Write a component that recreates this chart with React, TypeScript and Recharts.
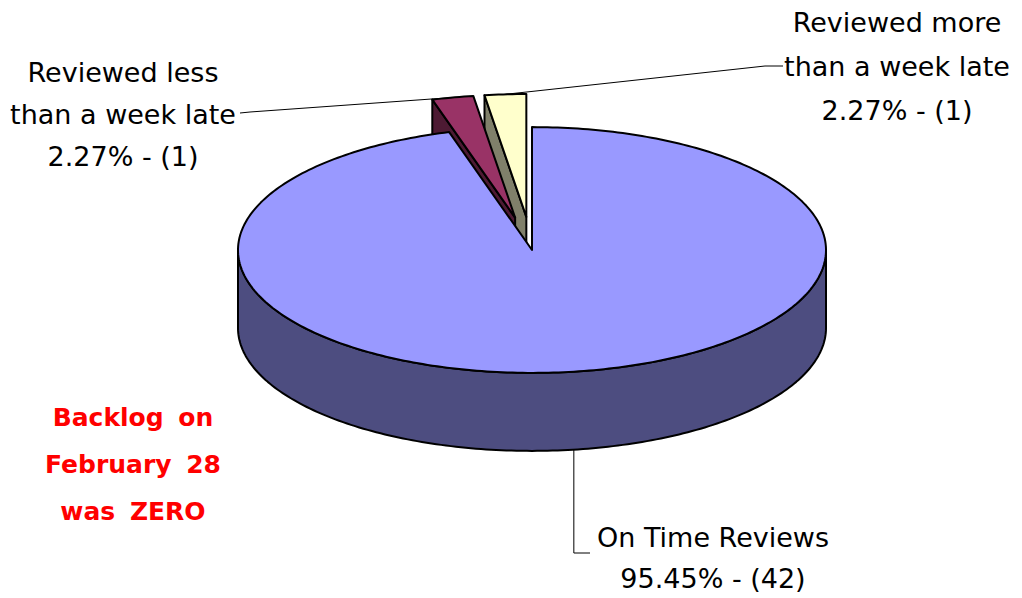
import React from "react";
import { PieChart, Pie, Cell } from "recharts";

// slices go counter-clockwise from 12 o'clock, so the exploded ones come first
const categories = [
  "Reviewed more than a week late",
  "Reviewed less than a week late",
  "On Time Reviews",
];
const labelLines = [
  ["Reviewed more", "than a week late"],
  ["Reviewed less", "than a week late"],
  ["On Time Reviews"],
];
const reviewCounts = [1, 1, 42];
const topColors = ["#FFFFCC", "#993366", "#9999FF"];
const sideColors = ["#80806A", "#4D1A33", "#4D4D80"];
const explodeRatio = [0.27, 0.27, 0];
const noteLines = ["Backlog on", "February 28", "was ZERO"];

const data = categories.map((name, i) => ({
  name,
  value: reviewCounts[i],
  top: topColors[i],
  side: sideColors[i],
  explode: explodeRatio[i],
  lines: labelLines[i],
}));

// where each label sits (layout only)
const labelLayout = [
  { x: 897, y: 22, gap: 44, bend: [[765, 66], [783, 66]] },
  { x: 123, y: 72, gap: 42, bend: [[250, 112], [240, 113]] },
  { x: 713, y: 537, gap: 41, bend: null },
];

const FONT = "'Comic Sans MS', 'DejaVu Sans', sans-serif";
const TILT = 0.418;
const DEPTH = 78;
const RAD = Math.PI / 180;

const arcPoints = (cx: number, cy: number, rx: number, ry: number, a1: number, a2: number, dy = 0) => {
  const steps = Math.max(2, Math.ceil(Math.abs(a2 - a1)));
  const pts: number[][] = [];
  for (let s = 0; s <= steps; s++) {
    const a = (a1 + ((a2 - a1) * s) / steps) * RAD;
    pts.push([cx + rx * Math.cos(a), cy - ry * Math.sin(a) + dy]);
  }
  return pts;
};

const toPath = (pts: number[][]) =>
  "M" + pts.map((p) => `${p[0].toFixed(2)},${p[1].toFixed(2)}`).join("L") + "Z";

const renderSlice = (props: any) => {
  const { cx, cy, outerRadius, startAngle, endAngle, index, payload, percent, value } = props;
  const rx = outerRadius;
  const ry = outerRadius * TILT;
  const a1 = Math.min(startAngle, endAngle);
  const a2 = Math.max(startAngle, endAngle);
  const mid = (a1 + a2) / 2;
  const e = payload.explode || 0;
  const x0 = cx + e * rx * Math.cos(mid * RAD);
  const y0 = cy - e * ry * Math.sin(mid * RAD);
  const stroke = { stroke: "#000", strokeWidth: 2, strokeLinejoin: "round" as const };

  const faces: React.ReactNode[] = [];
  const radial = (a: number, key: string) => {
    const p = arcPoints(x0, y0, rx, ry, a, a)[0];
    faces.push(
      <path
        key={key}
        d={toPath([[x0, y0], p, [p[0], p[1] + DEPTH], [x0, y0 + DEPTH]])}
        fill={payload.side}
        {...stroke}
      />
    );
  };
  if (Math.cos(a1 * RAD) > 1e-6) radial(a1, "r1");
  if (Math.cos(a2 * RAD) < -1e-6) radial(a2, "r2");

  // outer wall: only the front half (180..360) can be seen
  for (let k = -1; k <= 2; k++) {
    const lo = Math.max(a1, 180 + 360 * k);
    const hi = Math.min(a2, 360 + 360 * k);
    if (hi > lo) {
      const upper = arcPoints(x0, y0, rx, ry, lo, hi);
      const lower = arcPoints(x0, y0, rx, ry, hi, lo, DEPTH);
      faces.push(<path key={`w${k}`} d={toPath([...upper, ...lower])} fill={payload.side} {...stroke} />);
    }
  }

  const top = [[x0, y0], ...arcPoints(x0, y0, rx, ry, a1, a2)];
  faces.push(<path key="top" d={toPath(top)} fill={payload.top} {...stroke} />);

  // label with leader line
  const lay = labelLayout[index];
  const text = [...payload.lines, `${(percent * 100).toFixed(2)}% - (${value})`];
  let leader: number[][];
  if (lay.bend) {
    const p = arcPoints(x0, y0, rx, ry, mid, mid)[0];
    leader = [p, ...lay.bend];
  } else {
    const p = arcPoints(x0, y0, rx, ry, mid, mid, DEPTH)[0];
    leader = [p, [p[0], 553], [590, 553]];
  }

  return (
    <g key={`slice-${index}`}>
      {faces}
      <polyline
        points={leader.map((p) => p.join(",")).join(" ")}
        fill="none"
        stroke="#000"
        strokeWidth={1}
      />
      {text.map((t, i) => (
        <text
          key={i}
          x={lay.x}
          y={lay.y + i * lay.gap}
          dy="0.36em"
          textAnchor="middle"
          fontFamily={FONT}
          fontSize={27}
          fill="#000"
        >
          {t}
        </text>
      ))}
    </g>
  );
};

export default function App() {
  return (
    <div style={{ position: "absolute", left: 0, top: 0, width: 1022, height: 598, background: "#fff" }}>
      <PieChart width={1022} height={598} margin={{ top: 0, right: 0, bottom: 0, left: 0 }}>
        <Pie
          data={data}
          dataKey="value"
          nameKey="name"
          cx={532}
          cy={250}
          outerRadius={294}
          startAngle={90}
          endAngle={450}
          label={renderSlice}
          labelLine={false}
          stroke="none"
          isAnimationActive={false}
        >
          {data.map((d, i) => (
            <Cell key={i} fill="none" stroke="none" />
          ))}
        </Pie>
      </PieChart>
      <div
        style={{
          position: "absolute",
          left: 13,
          top: 394,
          width: 240,
          textAlign: "center",
          fontFamily: FONT,
          fontWeight: "bold",
          fontSize: 25,
          lineHeight: "47px",
          color: "#FF0000",
          wordSpacing: 6,
        }}
      >
        {noteLines.map((l, i) => (
          <div key={i}>{l}</div>
        ))}
      </div>
    </div>
  );
}
